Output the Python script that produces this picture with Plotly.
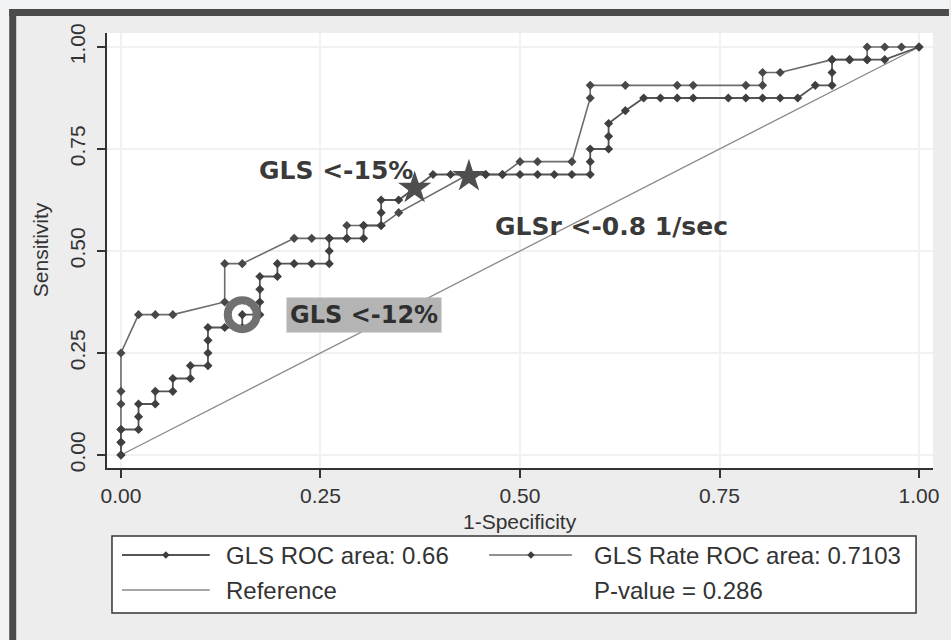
import plotly.graph_objects as go

# ---------------- data ----------------
gls_x = [0, 0, 0, 0.022, 0.022, 0.022, 0.043, 0.043, 0.065, 0.065, 0.087, 0.087,
         0.109, 0.109, 0.109, 0.109, 0.130, 0.152, 0.152, 0.174, 0.174, 0.174, 0.174,
         0.196, 0.196, 0.217, 0.239, 0.261, 0.261, 0.261, 0.283, 0.304, 0.304, 0.326,
         0.326, 0.326, 0.348, 0.391, 0.413, 0.435, 0.457, 0.478, 0.500, 0.522, 0.543,
         0.565, 0.588, 0.588, 0.588, 0.611, 0.611, 0.611, 0.632, 0.655, 0.676, 0.697,
         0.717, 0.761, 0.783, 0.804, 0.826, 0.848, 0.870, 0.891, 0.891, 0.891, 0.913,
         0.935, 0.957, 1.0]
gls_y = [0, 0.031, 0.0625, 0.0625, 0.094, 0.125, 0.125, 0.156, 0.156, 0.1875, 0.1875, 0.219,
         0.219, 0.25, 0.281, 0.3125, 0.3125, 0.3125, 0.344, 0.344, 0.375, 0.406, 0.4375,
         0.4375, 0.469, 0.469, 0.469, 0.469, 0.5, 0.531, 0.531, 0.531, 0.5625, 0.5625,
         0.594, 0.625, 0.625, 0.6875, 0.6875, 0.6875, 0.6875, 0.6875, 0.6875, 0.6875, 0.6875,
         0.6875, 0.6875, 0.719, 0.75, 0.75, 0.781, 0.8125, 0.844, 0.875, 0.875, 0.875,
         0.875, 0.875, 0.875, 0.875, 0.875, 0.875, 0.906, 0.906, 0.9375, 0.969, 0.969,
         0.969, 0.969, 1.0]

glsr_x = [0, 0, 0, 0, 0, 0, 0.022, 0.043, 0.065, 0.130, 0.130, 0.152, 0.217, 0.239,
          0.261, 0.283, 0.283, 0.304, 0.326, 0.348, 0.435, 0.457, 0.478, 0.500, 0.522,
          0.565, 0.588, 0.588, 0.632, 0.697, 0.717, 0.783, 0.804, 0.804, 0.826, 0.891,
          0.913, 0.935, 0.935, 0.957, 0.978, 1.0]
glsr_y = [0, 0.031, 0.0625, 0.125, 0.156, 0.25, 0.344, 0.344, 0.344, 0.375, 0.469, 0.469,
          0.531, 0.531, 0.531, 0.531, 0.5625, 0.5625, 0.5625, 0.594, 0.6875, 0.6875, 0.6875,
          0.719, 0.719, 0.719, 0.875, 0.906, 0.906, 0.906, 0.906, 0.906, 0.906, 0.9375,
          0.9375, 0.969, 0.969, 0.969, 1.0, 1.0, 1.0, 1.0]

ref_x = [0, 1]
ref_y = [0, 1]

# cut-off points
cut12_x = [0.152]
cut12_y = [0.344]
star_x = [0.368, 0.436]
star_y = [0.654, 0.683]
cut_labels = ["GLS <-12%", "GLS <-15%", "GLSr <-0.8 1/sec"]

tick_vals = [0, 0.25, 0.5, 0.75, 1.0]
tick_text = ["0.00", "0.25", "0.50", "0.75", "1.00"]
legend_labels = ["GLS ROC area: 0.66", "GLS Rate ROC area: 0.7103", "Reference", "P-value = 0.286"]
x_title = "1-Specificity"
y_title = "Sensitivity"

# ---------------- layout helpers ----------------
W, H = 951, 640
PL, PR, PT, PB = 107, 935, 33, 468   # plot area in pixels


def px(xp):
    return (xp - PL) / (PR - PL)


def py(yp):
    return (PB - yp) / (PB - PT)


FONT = "Liberation Sans, Arial, sans-serif"
BOLD = "DejaVu Sans, sans-serif"
LINE_C = "#6c6c6c"
MARK_C = "#3f3f3f"

fig = go.Figure()

fig.add_trace(go.Scatter(x=ref_x, y=ref_y, mode="lines",
                         line=dict(color="#8a8a8a", width=1.3), hoverinfo="skip"))
fig.add_trace(go.Scatter(x=glsr_x, y=glsr_y, mode="lines+markers",
                         line=dict(color=LINE_C, width=1.6),
                         marker=dict(symbol="diamond", size=7, color="#484848")))
fig.add_trace(go.Scatter(x=gls_x, y=gls_y, mode="lines+markers",
                         line=dict(color="#555555", width=1.8),
                         marker=dict(symbol="diamond", size=7, color=MARK_C)))
fig.add_trace(go.Scatter(x=cut12_x, y=cut12_y, mode="markers",
                         marker=dict(symbol="circle-open", size=29, color="#707070",
                                     line=dict(width=8, color="#707070"))))
fig.add_trace(go.Scatter(x=star_x, y=star_y, mode="markers",
                         marker=dict(symbol="star", size=25, color="#4e4e4e")))

shapes = []
# outer light margin and dark frame
shapes.append(dict(type="rect", xref="paper", yref="paper", x0=px(0), x1=px(W), y0=py(0), y1=py(9),
                   fillcolor="#f2f3f5", line=dict(width=0), layer="below"))
shapes.append(dict(type="rect", xref="paper", yref="paper", x0=px(0), x1=px(9), y0=py(0), y1=py(H),
                   fillcolor="#f2f3f5", line=dict(width=0), layer="below"))
shapes.append(dict(type="rect", xref="paper", yref="paper", x0=px(9), x1=px(W), y0=py(9), y1=py(16),
                   fillcolor="#4b4b4b", line=dict(width=0), layer="below"))
shapes.append(dict(type="rect", xref="paper", yref="paper", x0=px(9), x1=px(16), y0=py(9), y1=py(H),
                   fillcolor="#4b4b4b", line=dict(width=0), layer="below"))
# legend box
shapes.append(dict(type="rect", xref="paper", yref="paper", x0=px(112), x1=px(918), y0=py(536), y1=py(613),
                   fillcolor="white", line=dict(width=1.5, color="#333333")))
# legend sample lines
for (x0, x1, yy, col, w) in [(122, 210, 555, "#555555", 1.8), (490, 573, 555, LINE_C, 1.6),
                             (122, 210, 590, "#8a8a8a", 1.3)]:
    shapes.append(dict(type="line", xref="paper", yref="paper", x0=px(x0), x1=px(x1),
                       y0=py(yy), y1=py(yy), line=dict(color=col, width=w)))
# legend sample markers (diamonds)
for (cx, cy) in [(166, 555), (532, 555)]:
    r = 3.8
    path = "M {a} {b} L {c} {d} L {e} {f} L {g} {h} Z".format(
        a=px(cx - r), b=py(cy), c=px(cx), d=py(cy - r), e=px(cx + r), f=py(cy), g=px(cx), h=py(cy + r))
    shapes.append(dict(type="path", xref="paper", yref="paper", path=path,
                       fillcolor=MARK_C, line=dict(width=0)))

annotations = []
# cut-off labels
annotations.append(dict(x=px(365), y=py(315), xref="paper", yref="paper", text="<b>%s</b>" % cut_labels[0],
                        showarrow=False, font=dict(family=BOLD, size=24, color="#2f2f2f"),
                        bgcolor="#b4b4b4", borderpad=3, xanchor="center", yanchor="middle"))
annotations.append(dict(x=px(337), y=py(170), xref="paper", yref="paper", text="<b>%s</b>" % cut_labels[1],
                        showarrow=False, font=dict(family=BOLD, size=25, color="#3a3a3a"),
                        xanchor="center", yanchor="middle"))
annotations.append(dict(x=px(613), y=py(226), xref="paper", yref="paper", text="<b>%s</b>" % cut_labels[2],
                        showarrow=False, font=dict(family=BOLD, size=25, color="#3a3a3a"),
                        xanchor="center", yanchor="middle"))
# axis titles
annotations.append(dict(x=px(521), y=py(521), xref="paper", yref="paper", text=x_title, showarrow=False,
                        font=dict(family=FONT, size=21, color="#333333"), xanchor="center", yanchor="middle"))
annotations.append(dict(x=px(40), y=py(250), xref="paper", yref="paper", text=y_title, showarrow=False,
                        textangle=-90, font=dict(family=FONT, size=21, color="#333333"),
                        xanchor="center", yanchor="middle"))
# legend texts
for (tx, ty, t) in [(224, 555, legend_labels[0]), (593, 555, legend_labels[1]),
                    (224, 590, legend_labels[2]), (593, 590, legend_labels[3])]:
    annotations.append(dict(x=px(tx), y=py(ty), xref="paper", yref="paper", text=t, showarrow=False,
                            font=dict(family=FONT, size=24, color="#333333"),
                            xanchor="left", yanchor="middle"))

axis_common = dict(tickmode="array", tickvals=tick_vals, ticktext=tick_text,
                   ticks="outside", ticklen=8, tickwidth=1.5, tickcolor="#333333",
                   showline=True, linecolor="#333333", linewidth=1.5,
                   showgrid=True, gridcolor="#f1f1f1", gridwidth=1.5, zeroline=False,
                   tickfont=dict(family=FONT, size=21, color="#333333"))

fig.update_layout(
    width=W, height=H, autosize=False,
    margin=dict(l=PL, r=W - PR, t=PT, b=H - PB, pad=0),
    paper_bgcolor="#ededed", plot_bgcolor="white",
    showlegend=False,
    shapes=shapes, annotations=annotations,
    xaxis=dict(range=[-0.0175, 1.0175], ticklabelstandoff=0, **axis_common),
    yaxis=dict(range=[-0.0319, 1.0343], tickangle=-90, ticklabelstandoff=4, **axis_common),
)

fig.write_html("out.html", config={"displayModeBar": False},
               post_script="document.body.style.margin='0px';")
